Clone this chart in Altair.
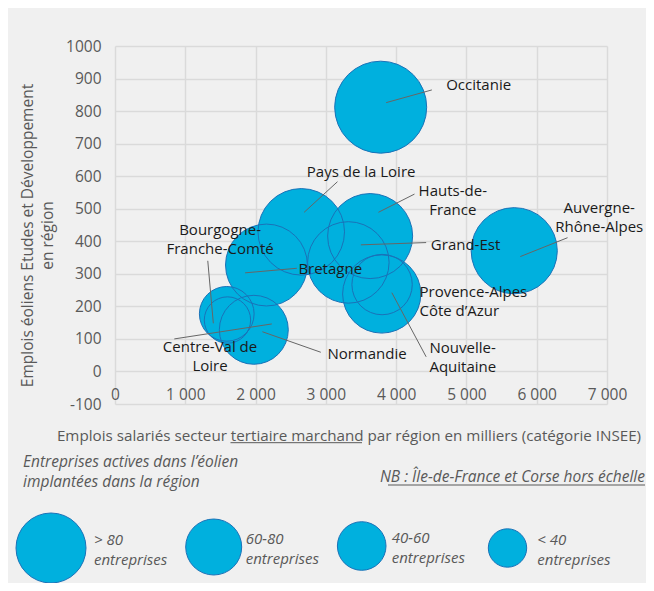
import altair as alt
import pandas as pd

# ---------------- data ----------------
regions = ["Occitanie", "Auvergne-Rhône-Alpes", "Hauts-de-France", "Grand-Est",
           "Provence-Alpes-Côte d'Azur", "Nouvelle-Aquitaine", "Pays de la Loire",
           "Bretagne", "Normandie", "Centre-Val de Loire", "Bourgogne-Franche-Comté"]
emplois_tertiaire = [3780, 5680, 3630, 3320, 3800, 3795, 2650, 2155, 1975, 1590, 1600]
emplois_eolien = [812, 371, 416, 335, 267, 238, 429, 327, 128, 177, 158]
entreprises = [130, 114, 111, 102, 56, 94, 115, 103, 73, 46, 33]

# label texts and the anchor of their first line (in data units)
label_text = ["Occitanie", "Auvergne-\nRhône-Alpes", "Hauts-de-\nFrance", "Grand-Est",
              "Provence-Alpes\nCôte d’Azur", "Nouvelle-\nAquitaine", "Pays de la Loire",
              "Bretagne", "Normandie", "Centre-Val de\nLoire", "Bourgogne-\nFranche-Comté"]
label_x = [4712, 6890, 4806, 4494, 4332, 4474, 3502, 2609, 3022, 1352, 1495]
label_y = [880, 503, 556, 388, 245, 72, 614, 315, 53, 76, 435]
label_align = ["left", "center", "center", "left", "left", "left", "center",
               "left", "left", "center", "center"]
# leader lines (start at label, end near bubble), data units; None = no leader
leader_x1 = [4508, 6439, 4261, 4427, None, 4427, 3165, 2587, 2928, 844, 1320]
leader_y1 = [865, 411, 545, 396, None, 45, 583, 317, 59, 100, 340]
leader_x2 = [3858, 5766, 3748, 3498, None, 3939, 2691, 1851, 2097, 2231, 1399]
leader_y2 = [826, 353, 489, 389, None, 242, 489, 303, 122, 146, 148]

x_ticks = [0, 1000, 2000, 3000, 4000, 5000, 6000, 7000]
y_ticks = [-100, 0, 100, 200, 300, 400, 500, 600, 700, 800, 900, 1000]

legend_labels = ["> 80\nentreprises", "60-80\nentreprises", "40-60\nentreprises", "< 40\nentreprises"]

# ---------------- style ----------------
FONT = "Open Sans"
FS = 15.5
LFS = 15
FILL = "#00b0de"
STROKE = "#1a72b8"
GRID = "#dadada"
GRAY = "#595959"
TXT = "#1a1a1a"
W, H = 492, 358
MAX_D = 92  # diameter of the largest bubble in px

legend_px_x = [-64, 98.7, 246.7, 392.5]
legend_px_y = [502, 501, 500, 502]
legend_d = [70, 56, 48.6, 38.4]
legend_text_x = [-21, 130.7, 276.7, 422.3]

df = pd.DataFrame({"region": regions, "x": emplois_tertiaire, "y": emplois_eolien,
                   "n": entreprises})
lab = pd.DataFrame({"t": label_text, "x": label_x, "y": label_y, "align": label_align})
lead = pd.DataFrame({"x1": leader_x1, "y1": leader_y1, "x2": leader_x2, "y2": leader_y2}).dropna()

xscale = alt.Scale(domain=[0, 7000], nice=False, zero=False)
yscale = alt.Scale(domain=[-100, 1000], nice=False, zero=False)
sscale = alt.Scale(domain=[0, max(entreprises)], range=[0, MAX_D ** 2], zero=True)

X_TITLE = "Emplois salariés secteur tertiaire marchand par région en milliers (catégorie INSEE)"
Y_TITLE = ["Emplois éoliens Etudes et Développement", "en région"]

x_axis = alt.Axis(
    values=x_ticks, offset=-32.5, domain=False, ticks=False, tickSize=0,
    labelPadding=16, labelFontSize=FS, labelColor=GRAY, labelFont=FONT, labelFlush=False,
    labelExpr="replace(format(datum.value, ','), ',', ' ')",
    grid=True, gridColor=GRID, gridWidth=1.5,
    title=X_TITLE,
    titleFont=FONT, titleFontSize=15.2, titleFontWeight="normal", titleColor=GRAY,
    titleX=233.5, titleY=63.5, titleBaseline="middle", titleAnchor="middle",
)
y_axis = alt.Axis(
    values=y_ticks, domain=False, ticks=False, tickSize=0,
    labelPadding=14, labelFontSize=FS, labelColor=GRAY, labelFont=FONT, labelFlush=False,
    labelExpr="'' + datum.value",
    grid=True, gridColor=GRID, gridWidth=1.5,
    title=Y_TITLE,
    titleFont=FONT, titleFontSize=FS, titleFontWeight="normal", titleColor=GRAY,
    titleX=-88, titleY=189, titleBaseline="middle", titleAnchor="middle", titleAngle=270,
    titleLineHeight=20,
)


def X(field):
    return alt.X(field, scale=xscale, axis=x_axis, title=X_TITLE)


def Y(field):
    return alt.Y(field, scale=yscale, axis=y_axis, title=Y_TITLE)


bubbles_fill = alt.Chart(df).mark_circle(opacity=1, color=FILL).encode(
    x=X("x:Q"), y=Y("y:Q"),
    size=alt.Size("n:Q", scale=sscale, legend=None),
    tooltip=["region", "x", "y", "n"],
)
bubbles_stroke = alt.Chart(df).mark_point(shape="circle", filled=False, color=STROKE,
                                          strokeWidth=1, opacity=1).encode(
    x=X("x:Q"), y=Y("y:Q"),
    size=alt.Size("n:Q", scale=sscale, legend=None),
)
leaders = alt.Chart(lead).mark_rule(color="#666666", strokeWidth=1).encode(
    x=X("x1:Q"), y=Y("y1:Q"), x2="x2:Q", y2="y2:Q",
)


def labels(align):
    return alt.Chart(lab).transform_filter(alt.datum.align == align).mark_text(
        align=align, baseline="middle", lineBreak="\n", lineHeight=19,
        font=FONT, fontSize=LFS, color=TXT,
    ).encode(x=X("x:Q"), y=Y("y:Q"), text="t:N")


one = pd.DataFrame({"k": [0]})
layers = [bubbles_fill, bubbles_stroke, leaders, labels("left"), labels("center")]

# custom legend (illustrative bubbles)
for lbl, cx, cy, d, tx in zip(legend_labels, legend_px_x, legend_px_y, legend_d, legend_text_x):
    layers.append(alt.Chart(one).mark_circle(size=d * d, color=FILL, opacity=1,
                                             stroke=STROKE, strokeWidth=1)
                  .encode(x=alt.value(cx), y=alt.value(cy)))
    layers.append(alt.Chart(one).mark_text(align="left", baseline="middle", lineBreak="\n",
                                           lineHeight=20, font=FONT, fontSize=LFS,
                                           fontStyle="italic", color=GRAY)
                  .encode(x=alt.value(tx), y=alt.value(cy - 8), text=alt.value(lbl)))

layers.append(alt.Chart(one).mark_text(align="left", baseline="middle", lineBreak="\n",
                                       lineHeight=20, font=FONT, fontSize=FS,
                                       fontStyle="italic", color=GRAY)
              .encode(x=alt.value(-92), y=alt.value(416),
                      text=alt.value("Entreprises actives dans l’éolien\nimplantées dans la région")))
layers.append(alt.Chart(one).mark_text(align="right", baseline="middle", font=FONT, fontSize=FS,
                                       fontStyle="italic", color=GRAY)
              .encode(x=alt.value(530), y=alt.value(431),
                      text=alt.value("NB : Île-de-France et Corse hors échelle")))
layers.append(alt.Chart(one).mark_rule(color=GRAY, strokeWidth=1)
              .encode(x=alt.value(273), x2=alt.value(530), y=alt.value(439)))
# underline of "tertiaire marchand" in the x axis title
layers.append(alt.Chart(one).mark_rule(color=GRAY, strokeWidth=1)
              .encode(x=alt.value(115.5), x2=alt.value(247), y=alt.value(396.7)))

chart = alt.layer(*layers).properties(
    width=W, height=H,
    background="#f0f0f0",
    autosize=alt.AutoSizeParams(type="none"),
    padding={"left": 107, "top": 38, "right": 39, "bottom": 179},
).configure(font=FONT).configure_view(stroke=None)

chart.save("out.html", embed_options={"renderer": "svg", "actions": False})
